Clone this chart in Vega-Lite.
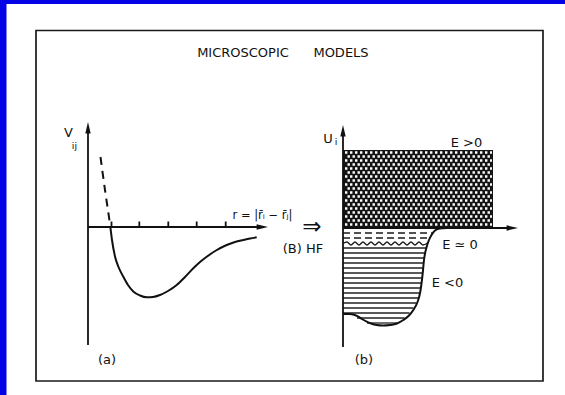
{
  "$schema": "https://vega.github.io/schema/vega-lite/v6.json",
  "width": 565,
  "height": 395,
  "autosize": {"type": "fit", "contains": "padding"},
  "padding": 0,
  "background": "white",
  "config": {"view": {"stroke": null}},
  "datasets": {
    "panels": [
      {"part": "band", "x": 0, "x2": 565, "y": 0, "y2": 4},
      {"part": "band", "x": 0, "x2": 6.5, "y": 0, "y2": 395},
      {"part": "frame", "x": 36, "x2": 543, "y": 30.5, "y2": 381},
      {"part": "continuum", "x": 343, "x2": 493, "y": 150, "y2": 228}
    ],
    "segments": [
      {"kind": "axis", "x": 88, "x2": 88, "y": 130, "y2": 345},
      {"kind": "axis", "x": 88, "x2": 260, "y": 227, "y2": 227},
      {"kind": "axis", "x": 343, "x2": 343, "y": 133, "y2": 347},
      {"kind": "axis", "x": 343, "x2": 510, "y": 228, "y2": 228},
      {"kind": "tick", "x": 111.5, "x2": 111.5, "y": 221.5, "y2": 227},
      {"kind": "tick", "x": 139.3, "x2": 139.3, "y": 221.5, "y2": 227},
      {"kind": "tick", "x": 168.3, "x2": 168.3, "y": 221.5, "y2": 227},
      {"kind": "tick", "x": 196.7, "x2": 196.7, "y": 221.5, "y2": 227},
      {"kind": "tick", "x": 225.7, "x2": 225.7, "y": 221.5, "y2": 227},
      {"kind": "dash", "x": 343, "x2": 432, "y": 233, "y2": 233},
      {"kind": "dash", "x": 343, "x2": 429.5, "y": 238, "y2": 238},
      {"kind": "level", "x": 343, "x2": 426.6, "y": 248, "y2": 248},
      {"kind": "level", "x": 343, "x2": 425.3, "y": 253, "y2": 253},
      {"kind": "level", "x": 343, "x2": 424.4, "y": 258, "y2": 258},
      {"kind": "level", "x": 343, "x2": 423.8, "y": 263, "y2": 263},
      {"kind": "level", "x": 343, "x2": 423.2, "y": 268, "y2": 268},
      {"kind": "level", "x": 343, "x2": 422.5, "y": 273, "y2": 273},
      {"kind": "level", "x": 343, "x2": 421.8, "y": 278, "y2": 278},
      {"kind": "level", "x": 343, "x2": 421, "y": 283, "y2": 283},
      {"kind": "level", "x": 343, "x2": 420.5, "y": 288, "y2": 288},
      {"kind": "level", "x": 343, "x2": 419.8, "y": 293, "y2": 293},
      {"kind": "level", "x": 343, "x2": 418.3, "y": 298, "y2": 298},
      {"kind": "level", "x": 343, "x2": 416.2, "y": 303, "y2": 303},
      {"kind": "level", "x": 343, "x2": 413.3, "y": 308, "y2": 308},
      {"kind": "level", "x": 343, "x2": 409.5, "y": 313, "y2": 313},
      {"kind": "level", "x": 357, "x2": 404.5, "y": 318, "y2": 318},
      {"kind": "level", "x": 367, "x2": 397, "y": 323, "y2": 323}
    ],
    "dotRows": [
      {"row": 0, "x": 345, "x2": 492, "y": 152.5}, {"row": 1, "x": 345, "x2": 492, "y": 156.5},
      {"row": 0, "x": 345, "x2": 492, "y": 160.5}, {"row": 1, "x": 345, "x2": 492, "y": 164.5},
      {"row": 0, "x": 345, "x2": 492, "y": 168.5}, {"row": 1, "x": 345, "x2": 492, "y": 172.5},
      {"row": 0, "x": 345, "x2": 492, "y": 176.5}, {"row": 1, "x": 345, "x2": 492, "y": 180.5},
      {"row": 0, "x": 345, "x2": 492, "y": 184.5}, {"row": 1, "x": 345, "x2": 492, "y": 188.5},
      {"row": 0, "x": 345, "x2": 492, "y": 192.5}, {"row": 1, "x": 345, "x2": 492, "y": 196.5},
      {"row": 0, "x": 345, "x2": 492, "y": 200.5}, {"row": 1, "x": 345, "x2": 492, "y": 204.5},
      {"row": 0, "x": 345, "x2": 492, "y": 208.5}, {"row": 1, "x": 345, "x2": 492, "y": 212.5},
      {"row": 0, "x": 345, "x2": 492, "y": 216.5}, {"row": 1, "x": 345, "x2": 492, "y": 220.5},
      {"row": 0, "x": 345, "x2": 492, "y": 224.5}
    ],
    "curves": [
      {"id": "core", "i": 0, "x": 100.5, "y": 157},
      {"id": "core", "i": 1, "x": 102.5, "y": 172},
      {"id": "core", "i": 2, "x": 105, "y": 190},
      {"id": "core", "i": 3, "x": 107.5, "y": 207},
      {"id": "core", "i": 4, "x": 110.3, "y": 226},

      {"id": "vij", "i": 0, "x": 110.5, "y": 228},
      {"id": "vij", "i": 1, "x": 112, "y": 240},
      {"id": "vij", "i": 2, "x": 115, "y": 256.5},
      {"id": "vij", "i": 3, "x": 118.5, "y": 267},
      {"id": "vij", "i": 4, "x": 123.3, "y": 276.7},
      {"id": "vij", "i": 5, "x": 128, "y": 285},
      {"id": "vij", "i": 6, "x": 133.3, "y": 291.5},
      {"id": "vij", "i": 7, "x": 140, "y": 295.5},
      {"id": "vij", "i": 8, "x": 146.7, "y": 297.3},
      {"id": "vij", "i": 9, "x": 153, "y": 297},
      {"id": "vij", "i": 10, "x": 160, "y": 295},
      {"id": "vij", "i": 11, "x": 168, "y": 291},
      {"id": "vij", "i": 12, "x": 176.7, "y": 285},
      {"id": "vij", "i": 13, "x": 185, "y": 277},
      {"id": "vij", "i": 14, "x": 193.3, "y": 268.3},
      {"id": "vij", "i": 15, "x": 200, "y": 262},
      {"id": "vij", "i": 16, "x": 206.7, "y": 256.7},
      {"id": "vij", "i": 17, "x": 216, "y": 250.5},
      {"id": "vij", "i": 18, "x": 226.7, "y": 245},
      {"id": "vij", "i": 19, "x": 235, "y": 242},
      {"id": "vij", "i": 20, "x": 243.3, "y": 240},
      {"id": "vij", "i": 21, "x": 250, "y": 238.5},
      {"id": "vij", "i": 22, "x": 256.7, "y": 237.3},

      {"id": "well", "i": 0, "x": 447, "y": 228},
      {"id": "well", "i": 1, "x": 440, "y": 228.4},
      {"id": "well", "i": 2, "x": 435, "y": 230.5},
      {"id": "well", "i": 3, "x": 431.5, "y": 235},
      {"id": "well", "i": 4, "x": 429, "y": 240},
      {"id": "well", "i": 5, "x": 426.7, "y": 246.7},
      {"id": "well", "i": 6, "x": 424, "y": 260},
      {"id": "well", "i": 7, "x": 422.7, "y": 273.3},
      {"id": "well", "i": 8, "x": 420, "y": 293.3},
      {"id": "well", "i": 9, "x": 417.5, "y": 302},
      {"id": "well", "i": 10, "x": 413.3, "y": 310},
      {"id": "well", "i": 11, "x": 408.5, "y": 316},
      {"id": "well", "i": 12, "x": 403.3, "y": 320},
      {"id": "well", "i": 13, "x": 397, "y": 323.5},
      {"id": "well", "i": 14, "x": 390, "y": 325},
      {"id": "well", "i": 15, "x": 383, "y": 325.5},
      {"id": "well", "i": 16, "x": 376.7, "y": 325},
      {"id": "well", "i": 17, "x": 371, "y": 323.5},
      {"id": "well", "i": 18, "x": 366.7, "y": 321.7},
      {"id": "well", "i": 19, "x": 362, "y": 319},
      {"id": "well", "i": 20, "x": 358.3, "y": 316.7},
      {"id": "well", "i": 21, "x": 354, "y": 314.8},
      {"id": "well", "i": 22, "x": 350, "y": 314},
      {"id": "well", "i": 23, "x": 343.3, "y": 314},

      {"id": "fermi", "i": 0, "x": 343, "y": 243.5},
      {"id": "fermi", "i": 1, "x": 347, "y": 242},
      {"id": "fermi", "i": 2, "x": 351, "y": 245},
      {"id": "fermi", "i": 3, "x": 355, "y": 242},
      {"id": "fermi", "i": 4, "x": 359, "y": 245},
      {"id": "fermi", "i": 5, "x": 363, "y": 242},
      {"id": "fermi", "i": 6, "x": 367, "y": 245},
      {"id": "fermi", "i": 7, "x": 371, "y": 242},
      {"id": "fermi", "i": 8, "x": 375, "y": 245},
      {"id": "fermi", "i": 9, "x": 379, "y": 242},
      {"id": "fermi", "i": 10, "x": 383, "y": 245},
      {"id": "fermi", "i": 11, "x": 387, "y": 242},
      {"id": "fermi", "i": 12, "x": 391, "y": 245},
      {"id": "fermi", "i": 13, "x": 395, "y": 242},
      {"id": "fermi", "i": 14, "x": 399, "y": 245},
      {"id": "fermi", "i": 15, "x": 403, "y": 242},
      {"id": "fermi", "i": 16, "x": 407, "y": 245},
      {"id": "fermi", "i": 17, "x": 411, "y": 242},
      {"id": "fermi", "i": 18, "x": 415, "y": 245},
      {"id": "fermi", "i": 19, "x": 419, "y": 242},
      {"id": "fermi", "i": 20, "x": 423, "y": 245},
      {"id": "fermi", "i": 21, "x": 427.5, "y": 243}
    ],
    "heads": [
      {"dir": "up", "x": 88, "y": 122},
      {"dir": "up", "x": 343, "y": 125},
      {"dir": "right", "x": 268, "y": 227},
      {"dir": "right", "x": 518, "y": 228}
    ],
    "labels": [
      {"role": "title", "text": "MICROSCOPIC", "x": 243, "y": 53},
      {"role": "title", "text": "MODELS", "x": 341, "y": 53},
      {"role": "label", "text": "(a)", "x": 107, "y": 360},
      {"role": "label", "text": "(b)", "x": 364, "y": 360},
      {"role": "label", "text": "(B) HF", "x": 303, "y": 249},
      {"role": "label", "text": "E >0", "x": 466.5, "y": 143},
      {"role": "label", "text": "E ≃ 0", "x": 460, "y": 245},
      {"role": "label", "text": "E <0", "x": 447.5, "y": 283},
      {"role": "label", "text": "V", "x": 68.5, "y": 133},
      {"role": "label", "text": "U", "x": 328, "y": 138.5},
      {"role": "sub", "text": "ij", "x": 74.5, "y": 145.5},
      {"role": "sub", "text": "i", "x": 336, "y": 141.5},
      {"role": "rvar", "text": "r = |r̄ᵢ − r̄ⱼ|", "x": 262.5, "y": 216},
      {"role": "arrow", "text": "⇒", "x": 312, "y": 227}
    ]
  },
  "encoding": {
    "x": {"field": "x", "type": "quantitative", "axis": null,
          "scale": {"domain": [0, 565], "nice": false, "zero": false}},
    "y": {"field": "y", "type": "quantitative", "axis": null,
          "scale": {"domain": [0, 395], "nice": false, "zero": false, "reverse": true}}
  },
  "layer": [
    {
      "data": {"name": "panels"},
      "transform": [{"filter": "datum.part === 'band'"}],
      "mark": {"type": "rect", "color": "#0303e6"},
      "encoding": {"x2": {"field": "x2"}, "y2": {"field": "y2"}}
    },
    {
      "data": {"name": "panels"},
      "transform": [{"filter": "datum.part === 'frame'"}],
      "mark": {"type": "rect", "fill": null, "fillOpacity": 0, "stroke": "#1a1a1a", "strokeWidth": 1.7},
      "encoding": {"x2": {"field": "x2"}, "y2": {"field": "y2"}}
    },
    {
      "data": {"name": "panels"},
      "transform": [{"filter": "datum.part === 'continuum'"}],
      "mark": {"type": "rect", "color": "#151515"},
      "encoding": {"x2": {"field": "x2"}, "y2": {"field": "y2"}}
    },
    {
      "data": {"name": "dotRows"},
      "transform": [{"filter": "datum.row === 0"}],
      "mark": {"type": "rule", "color": "white", "strokeWidth": 2.6, "strokeCap": "butt", "strokeDash": [2.4, 2.6]},
      "encoding": {"x2": {"field": "x2"}}
    },
    {
      "data": {"name": "dotRows"},
      "transform": [{"filter": "datum.row === 1"}],
      "mark": {"type": "rule", "color": "white", "strokeWidth": 2.6, "strokeCap": "butt", "strokeDash": [2.4, 2.6], "strokeDashOffset": 2.5},
      "encoding": {"x2": {"field": "x2"}}
    },
    {
      "data": {"name": "segments"},
      "transform": [{"filter": "datum.kind === 'level'"}],
      "mark": {"type": "rule", "color": "#222", "strokeWidth": 1.3},
      "encoding": {"x2": {"field": "x2"}, "y2": {"field": "y2"}}
    },
    {
      "data": {"name": "segments"},
      "transform": [{"filter": "datum.kind === 'dash'"}],
      "mark": {"type": "rule", "color": "#1a1a1a", "strokeWidth": 1.5, "strokeDash": [7, 4]},
      "encoding": {"x2": {"field": "x2"}, "y2": {"field": "y2"}}
    },
    {
      "data": {"name": "segments"},
      "transform": [{"filter": "datum.kind === 'axis' || datum.kind === 'tick'"}],
      "mark": {"type": "rule", "color": "#111", "strokeWidth": 1.8},
      "encoding": {"x2": {"field": "x2"}, "y2": {"field": "y2"}}
    },
    {
      "data": {"name": "curves"},
      "transform": [{"filter": "datum.id === 'vij' || datum.id === 'well'"}],
      "mark": {"type": "line", "color": "#111", "strokeWidth": 2, "interpolate": "monotone"},
      "encoding": {"detail": {"field": "id"}, "order": {"field": "i"}}
    },
    {
      "data": {"name": "curves"},
      "transform": [{"filter": "datum.id === 'core'"}],
      "mark": {"type": "line", "color": "#111", "strokeWidth": 2, "strokeDash": [8, 6], "interpolate": "monotone"},
      "encoding": {"order": {"field": "i"}}
    },
    {
      "data": {"name": "curves"},
      "transform": [{"filter": "datum.id === 'fermi'"}],
      "mark": {"type": "line", "color": "#1a1a1a", "strokeWidth": 1.4, "interpolate": "monotone"},
      "encoding": {"order": {"field": "i"}}
    },
    {
      "data": {"name": "heads"},
      "transform": [{"filter": "datum.dir === 'up'"}],
      "mark": {"type": "point", "shape": "M0,0L0.45,1.9L-0.45,1.9Z", "filled": true, "color": "#111", "opacity": 1, "size": 144},
      "encoding": {}
    },
    {
      "data": {"name": "heads"},
      "transform": [{"filter": "datum.dir === 'right'"}],
      "mark": {"type": "point", "shape": "M0,0L-1.9,0.45L-1.9,-0.45Z", "filled": true, "color": "#111", "opacity": 1, "size": 144},
      "encoding": {}
    },
    {
      "data": {"name": "labels"},
      "transform": [{"filter": "datum.role === 'title'"}],
      "mark": {"type": "text", "font": "DejaVu Sans", "fontSize": 13, "color": "#111", "baseline": "middle", "align": "center"},
      "encoding": {"text": {"field": "text"}}
    },
    {
      "data": {"name": "labels"},
      "transform": [{"filter": "datum.role === 'label'"}],
      "mark": {"type": "text", "font": "DejaVu Sans", "fontSize": 13, "color": "#111", "baseline": "middle", "align": "center"},
      "encoding": {"text": {"field": "text"}}
    },
    {
      "data": {"name": "labels"},
      "transform": [{"filter": "datum.role === 'sub'"}],
      "mark": {"type": "text", "font": "DejaVu Sans", "fontSize": 9.5, "color": "#111", "baseline": "middle", "align": "center"},
      "encoding": {"text": {"field": "text"}}
    },
    {
      "data": {"name": "labels"},
      "transform": [{"filter": "datum.role === 'rvar'"}],
      "mark": {"type": "text", "font": "DejaVu Sans", "fontSize": 11.5, "color": "#111", "baseline": "middle", "align": "center"},
      "encoding": {"text": {"field": "text"}}
    },
    {
      "data": {"name": "labels"},
      "transform": [{"filter": "datum.role === 'arrow'"}],
      "mark": {"type": "text", "font": "DejaVu Sans", "fontSize": 23, "color": "#111", "baseline": "middle", "align": "center"},
      "encoding": {"text": {"field": "text"}}
    }
  ]
}
